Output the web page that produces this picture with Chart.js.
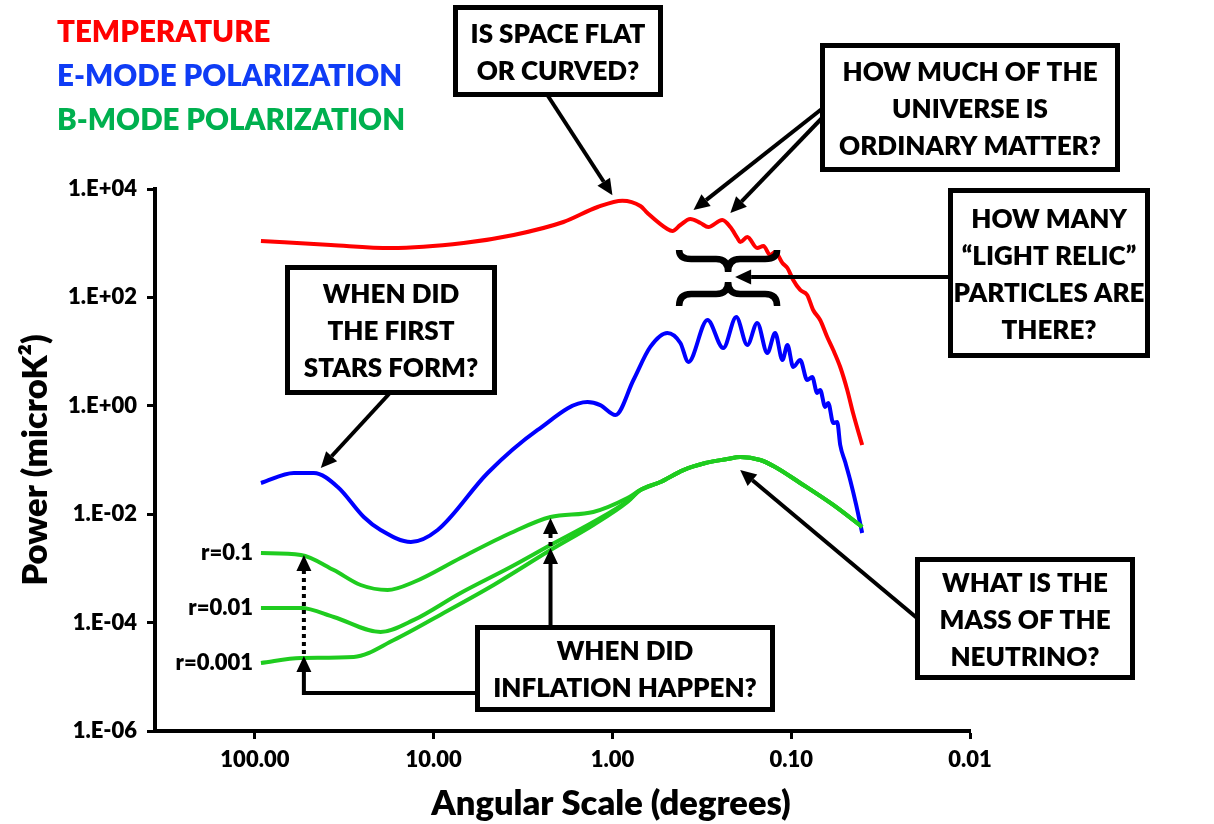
<!DOCTYPE html>
<html><head><meta charset="utf-8">
<script src="https://cdn.jsdelivr.net/npm/chart.js@4.4.1/dist/chart.umd.min.js"></script>
<style>html,body{margin:0;padding:0;background:#fff;}canvas{display:block;}</style>
</head><body>
<canvas id="c" width="1214" height="824"></canvas>
<script>
// ---------- data (angular scale in degrees, power in microK^2) ----------
const xTickValues = [100, 10, 1, 0.1, 0.01];
const xTickLabels = ['100.00', '10.00', '1.00', '0.10', '0.01'];
const yTickValues = [1e-6, 1e-4, 1e-2, 1, 1e2, 1e4];
const yTickLabels = ['1.E-06', '1.E-04', '1.E-02', '1.E+00', '1.E+02', '1.E+04'];

const tempAngle = [92.5, 37.6, 17.4, 6.80, 3.57, 1.88, 1.21, 0.88, 0.698, 0.637, 0.493, 0.462, 0.417, 0.367, 0.322, 0.291, 0.243, 0.219, 0.200, 0.193, 0.176, 0.155, 0.143, 0.131, 0.123, 0.112, 0.105, 0.0975, 0.0891, 0.0814, 0.0754, 0.0689, 0.0629, 0.0582, 0.0532, 0.0486, 0.0451, 0.0401];
const tempPower = [1099, 927, 815, 1009, 1417, 2461, 4656, 6100, 4860, 3606, 1828, 1679, 2168, 2795, 2358, 1991, 2680, 1991, 1247, 1052, 1301, 815, 887, 605, 688, 431, 349, 209, 137, 111, 58.6, 38.3, 18.6, 10.7, 5.20, 1.96, 0.736, 0.189];

const eAngle = [92.5, 60.5, 46.8, 34.4, 24.6, 19.8, 13.4, 9.50, 4.99, 2.62, 1.38, 1.17, 0.962, 0.763, 0.614, 0.493, 0.417, 0.376, 0.294, 0.240, 0.203, 0.176, 0.155, 0.136, 0.123, 0.112, 0.105, 0.0975, 0.0891, 0.0814, 0.0763, 0.0716, 0.0689, 0.0646, 0.0621, 0.0582, 0.0553, 0.0532, 0.0499, 0.0468, 0.0433, 0.0401];
const ePower = [0.0377, 0.0575, 0.0575, 0.0318, 0.00888, 0.00511, 0.00307, 0.00511, 0.0575, 0.358, 1.175, 1.03, 0.676, 2.99, 12.2, 22.0, 14.4, 6.43, 38.3, 11.6, 43.5, 13.2, 33.7, 9.42, 22.0, 7.00, 13.2, 5.20, 7.00, 2.99, 3.40, 1.72, 1.96, 0.95, 1.13, 0.482, 0.502, 0.189, 0.0918, 0.0428, 0.0148, 0.00450];

const bR01Angle = [92.5, 55.3, 36.2, 25.6, 18.1, 12.9, 7.07, 3.71, 2.22, 1.28, 0.824];
const bR01Power = [0.00192, 0.00177, 0.000933, 0.000494, 0.000399, 0.000561, 0.00156, 0.00450, 0.00888, 0.0110, 0.0199];
const bR001Angle = [92.5, 55.3, 36.2, 19.8, 12.9, 7.07, 3.71, 2.22, 1.28, 0.824];
const bR001Power = [0.000186, 0.000186, 0.000127, 0.0000671, 0.000112, 0.000352, 0.00106, 0.00270, 0.00718, 0.0175];
const bR0001Angle = [92.5, 55.3, 28.0, 16.7, 8.80, 4.62, 2.22, 1.28, 0.824];
const bR0001Power = [0.0000180, 0.0000222, 0.0000232, 0.0000477, 0.000150, 0.000494, 0.00218, 0.00632, 0.0168];
// shared small-scale (lensing) B-mode tail
const bLensAngle = [0.698, 0.539, 0.401, 0.302, 0.228, 0.193, 0.149, 0.123, 0.0891, 0.0582, 0.0401];
const bLensPower = [0.0279, 0.0393, 0.0653, 0.0881, 0.104, 0.114, 0.100, 0.0743, 0.0377, 0.0148, 0.00581];

const seriesNames = ['TEMPERATURE', 'E-MODE POLARIZATION', 'B-MODE POLARIZATION'];
const rLabels = ['r=0.1', 'r=0.01', 'r=0.001'];

// annotation anchors in data coordinates (angle, power)
const flatTip = [1.0, 7700];
const matterTips = [[0.352, 4100], [0.219, 3600]];
const relicTip = [0.206, 238];
const starsTip = [42.8, 0.0711];
const neutrinoTip = [0.193, 0.0653];
const inflRightAngle = 2.22, inflRightSolid = 0.00238, inflRightDotted = 0.0085;
const inflLeftAngle = 53.2, inflLeftSolid = 2.42e-5, inflLeftDotted = 0.00177;

// ---------- helpers ----------
const FONT = 'Lato, "Open Sans", "DejaVu Sans", sans-serif';
const W8 = '800';
const pts = (xs, ys) => xs.map((x, i) => ({x: x, y: ys[i]}));
const RED = '#ff0000', BLUE = '#0000ff', GREEN = '#1fcc1f';

function arrow(ctx, x1, y1, x2, y2, dash) {
  const L = 16, W = 7.5;
  const a = Math.atan2(y2 - y1, x2 - x1);
  const bx = x2 - L * Math.cos(a), by = y2 - L * Math.sin(a);
  ctx.save();
  ctx.strokeStyle = '#000'; ctx.fillStyle = '#000'; ctx.lineWidth = 4;
  if (dash) ctx.setLineDash(dash);
  ctx.beginPath(); ctx.moveTo(x1, y1); ctx.lineTo(bx, by); ctx.stroke();
  ctx.setLineDash([]);
  ctx.beginPath(); ctx.moveTo(x2, y2);
  ctx.lineTo(bx + W * Math.sin(a), by - W * Math.cos(a));
  ctx.lineTo(bx - W * Math.sin(a), by + W * Math.cos(a));
  ctx.closePath(); ctx.fill();
  ctx.restore();
}

function box(ctx, b) {
  ctx.save();
  ctx.fillStyle = '#fff'; ctx.fillRect(b.x, b.y, b.w, b.h);
  ctx.lineWidth = 5; ctx.strokeStyle = '#000';
  ctx.strokeRect(b.x + 2.5, b.y + 2.5, b.w - 5, b.h - 5);
  ctx.fillStyle = '#000'; ctx.font = W8 + ' 26px ' + FONT;
  ctx.textAlign = 'center'; ctx.textBaseline = 'alphabetic';
  const pitch = 37, cx = b.x + b.w / 2, cy = b.y + b.h / 2;
  b.lines.forEach((t, i) => {
    const yc = cy + (i - (b.lines.length - 1) / 2) * pitch;
    ctx.fillText(t, cx, yc + 10);
  });
  ctx.restore();
}

const boxes = {
  flat:     {lines: ['IS SPACE FLAT', 'OR CURVED?'], x: 453, y: 5, w: 210, h: 92},
  matter:   {lines: ['HOW MUCH OF THE', 'UNIVERSE IS', 'ORDINARY MATTER?'], x: 820, y: 43, w: 300, h: 129},
  relic:    {lines: ['HOW MANY', '\u201CLIGHT RELIC\u201D', 'PARTICLES ARE', 'THERE?'], x: 948, y: 188, w: 202, h: 170},
  stars:    {lines: ['WHEN DID', 'THE FIRST', 'STARS FORM?'], x: 285, y: 265, w: 212, h: 130},
  inflation:{lines: ['WHEN DID', 'INFLATION HAPPEN?'], x: 475, y: 625, w: 300, h: 87},
  neutrino: {lines: ['WHAT IS THE', 'MASS OF THE', 'NEUTRINO?'], x: 915, y: 557, w: 220, h: 123}
};

function brace(ctx, xl, xr, yEnd, yBody, yTip) {
  const xc = (xl + xr) / 2, r = 12;
  ctx.beginPath();
  ctx.moveTo(xl, yEnd);
  ctx.quadraticCurveTo(xl, yBody, xl + r, yBody);
  ctx.lineTo(xc - r, yBody);
  ctx.quadraticCurveTo(xc, yBody, xc, yTip);
  ctx.quadraticCurveTo(xc, yBody, xc + r, yBody);
  ctx.lineTo(xr - r, yBody);
  ctx.quadraticCurveTo(xr, yBody, xr, yEnd);
  ctx.stroke();
}

const annotations = {
  id: 'annotations',
  afterDatasetsDraw(chart) {
    const ctx = chart.ctx, sx = chart.scales.x, sy = chart.scales.y;
    const P = (d) => [sx.getPixelForValue(d[0]), sy.getPixelForValue(d[1])];

    // legend-like coloured titles
    ctx.save();
    ctx.font = W8 + ' 29.5px ' + FONT; ctx.textAlign = 'left'; ctx.textBaseline = 'alphabetic';
    ctx.fillStyle = '#ff0000'; ctx.fillText(seriesNames[0], 57, 42);
    ctx.fillStyle = '#0f3cf5'; ctx.fillText(seriesNames[1], 57, 86);
    ctx.fillStyle = '#00b04f'; ctx.fillText(seriesNames[2], 57, 130);
    ctx.restore();

    // r labels
    ctx.save();
    ctx.font = W8 + ' 22px ' + FONT; ctx.fillStyle = '#000';
    ctx.textAlign = 'right'; ctx.textBaseline = 'middle';
    const rFirst = [bR01Power[0], bR001Power[0], bR0001Power[0]];
    rLabels.forEach((t, i) => ctx.fillText(t, sx.getPixelForValue(bR01Angle[0]) - 8, sy.getPixelForValue(rFirst[i])));
    ctx.restore();

    // x axis title (centred on the page)
    ctx.save();
    ctx.font = W8 + ' 34.5px ' + FONT; ctx.fillStyle = '#000';
    ctx.textAlign = 'center'; ctx.textBaseline = 'middle';
    ctx.fillText('Angular Scale (degrees)', 611, 804);
    ctx.restore();

    // braces
    const rt = P(relicTip);
    ctx.save();
    ctx.strokeStyle = '#000'; ctx.lineWidth = 6.5; ctx.lineCap = 'butt';
    brace(ctx, rt[0] - 56, rt[0] + 42, rt[1] - 27, rt[1] - 18, rt[1] - 5);
    brace(ctx, rt[0] - 56, rt[0] + 42, rt[1] + 29, rt[1] + 17, rt[1] + 5);
    ctx.restore();

    // arrows
    let t = P(flatTip); arrow(ctx, 548, 96, t[0], t[1]);
    t = P(matterTips[0]); arrow(ctx, 823, 108, t[0], t[1]);
    t = P(matterTips[1]); arrow(ctx, 823, 117, t[0], t[1]);
    arrow(ctx, 950, rt[1], rt[0], rt[1]);
    t = P(starsTip); arrow(ctx, 389, 394, t[0], t[1]);
    t = P(neutrinoTip); arrow(ctx, 917, 618, t[0], t[1]);

    // inflation arrows
    const xr = sx.getPixelForValue(inflRightAngle);
    const yrs = sy.getPixelForValue(inflRightSolid), yrd = sy.getPixelForValue(inflRightDotted);
    arrow(ctx, xr, 626, xr, yrs);
    arrow(ctx, xr, yrs - 2, xr, yrd, [4, 4]);
    const xl = sx.getPixelForValue(inflLeftAngle);
    const yls = sy.getPixelForValue(inflLeftSolid), yld = sy.getPixelForValue(inflLeftDotted);
    ctx.save(); ctx.lineWidth = 4; ctx.strokeStyle = '#000';
    ctx.beginPath(); ctx.moveTo(477, 693); ctx.lineTo(xl, 693); ctx.lineTo(xl, yls + 10); ctx.stroke();
    ctx.restore();
    arrow(ctx, xl, yls + 12, xl, yls);
    arrow(ctx, xl, yls - 2, xl, yld, [4, 4]);

    // boxes
    Object.values(boxes).forEach(b => box(ctx, b));
  }
};

function build() {
  const ctx = document.getElementById('c').getContext('2d');
  const tickFont = {family: FONT, size: 22, weight: W8};
  const idxLabel = (vals, labels) => (v) => {
    const i = vals.findIndex(t => Math.abs(Math.log10(t) - Math.log10(v)) < 1e-6);
    return i >= 0 ? labels[i] : '';
  };
  new Chart(ctx, {
    type: 'line',
    data: {
      datasets: [
        {label: rLabels[2], data: pts(bR0001Angle.concat(bLensAngle), bR0001Power.concat(bLensPower)), borderColor: GREEN},
        {label: rLabels[1], data: pts(bR001Angle.concat(bLensAngle), bR001Power.concat(bLensPower)), borderColor: GREEN},
        {label: rLabels[0], data: pts(bR01Angle.concat(bLensAngle), bR01Power.concat(bLensPower)), borderColor: GREEN},
        {label: seriesNames[1], data: pts(eAngle, ePower), borderColor: BLUE},
        {label: seriesNames[0], data: pts(tempAngle, tempPower), borderColor: RED}
      ]
    },
    options: {
      responsive: false, animation: false, devicePixelRatio: 1,
      layout: {padding: {top: 189, right: 244, left: 0, bottom: 0}},
      elements: {
        point: {radius: 0, hoverRadius: 0},
        line: {borderWidth: 4, cubicInterpolationMode: 'monotone', fill: false}
      },
      plugins: {legend: {display: false}, tooltip: {enabled: false}},
      events: [],
      scales: {
        x: {
          type: 'logarithmic', reverse: true, min: 0.01, max: 362,
          afterBuildTicks: (s) => { s.ticks = xTickValues.slice().sort((a, b) => a - b).map(v => ({value: v, major: true})); },
          afterFit: (s) => { s.height = 93; },
          ticks: {callback: idxLabel(xTickValues, xTickLabels), font: tickFont, color: '#000', maxRotation: 0, autoSkip: false, padding: 8},
          grid: {drawOnChartArea: false, drawTicks: true, tickLength: 8, tickWidth: 3, tickColor: '#000'},
          border: {display: true, color: '#000', width: 4}
        },
        y: {
          type: 'logarithmic', min: 1e-6, max: 1e4,
          afterBuildTicks: (s) => { s.ticks = yTickValues.map(v => ({value: v, major: true})); },
          afterFit: (s) => { s.width = 155; },
          ticks: {callback: idxLabel(yTickValues, yTickLabels), font: tickFont, color: '#000', autoSkip: false, padding: 10},
          grid: {drawOnChartArea: false, drawTicks: true, tickLength: 8, tickWidth: 3, tickColor: '#000'},
          border: {display: true, color: '#000', width: 4},
          title: {display: true, text: 'Power (microK\u00B2)', font: {family: FONT, size: 34.5, weight: W8}, color: '#000', padding: {top: 15, bottom: 0}}
        }
      }
    },
    plugins: [annotations]
  });
}
if (document.fonts && document.fonts.load) {
  Promise.all([document.fonts.load('800 26px Lato'), document.fonts.load('800 30px Lato')]).then(build, build);
} else { build(); }
</script>
</body></html>
